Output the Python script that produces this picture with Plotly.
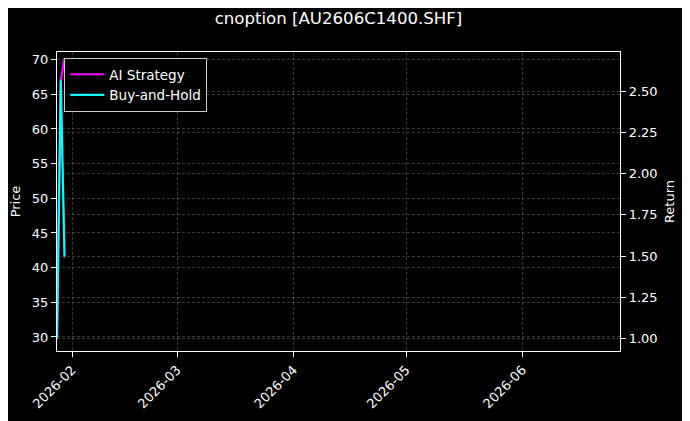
import plotly.graph_objects as go

# daily series for the option (only three sessions of data)
dates = ["2026-01-28", "2026-01-29", "2026-01-30"]
price = [30.0, 67.1, 41.4]
ai_strategy = [1.00, 2.567, 2.70]
buy_and_hold = [1.00, 2.567, 1.498]

x_range = ["2026-01-28", "2026-06-27"]
price_range = [27.98, 71.1]
return_range = [0.923, 2.739]

FONT = "DejaVu Sans"
GRID = "rgba(140,140,140,0.4)"

fig = go.Figure()
fig.add_trace(go.Scatter(x=dates, y=price, mode="lines", name="Price",
                         line=dict(color="rgba(255,255,255,0.35)", width=1.5),
                         showlegend=False, yaxis="y"))
fig.add_trace(go.Scatter(x=dates, y=ai_strategy, mode="lines", name="AI Strategy",
                         line=dict(color="#ff00ff", width=2.2), yaxis="y2"))
fig.add_trace(go.Scatter(x=dates, y=buy_and_hold, mode="lines", name="Buy-and-Hold",
                         line=dict(color="#00ffff", width=2.2), yaxis="y2"))

axis_common = dict(showline=True, linecolor="white", linewidth=1.2,
                   ticks="outside", tickcolor="white", ticklen=5,
                   tickfont=dict(color="white", size=13, family=FONT),
                   showgrid=True, gridcolor=GRID, griddash="3px,2px", gridwidth=0.5,
                   zeroline=False, automargin=False)

# page body adds 8px offset, so the figure is a bit smaller than the window
fig.update_layout(
    width=682, height=413,
    paper_bgcolor="black", plot_bgcolor="black",
    margin=dict(l=49, r=70, t=44, b=70),
    font=dict(family=FONT, color="white", size=13),
    title=dict(text="cnoption [AU2606C1400.SHF]", xref="paper", x=0.5, xanchor="center",
               y=0.975, yanchor="middle", font=dict(size=16.6, color="white", family=FONT)),
    xaxis=dict(axis_common, type="date", range=x_range, tickformat="%Y-%m",
               dtick="M1", tick0="2026-02-01", tickangle=-45, mirror=True),
    yaxis=dict(axis_common, range=price_range, dtick=5, tick0=30,
               title=dict(text="Price", standoff=8, font=dict(size=13, color="white"))),
    yaxis2=dict(axis_common, range=return_range, dtick=0.25, tick0=1.0,
                tickformat=".2f", overlaying="y", side="right",
                title=dict(text="Return", standoff=8, font=dict(size=13, color="white"))),
    legend=dict(x=0.013, y=0.98, xanchor="left", yanchor="top",
                bgcolor="rgba(0,0,0,0.8)", bordercolor="#cccccc", borderwidth=1,
                font=dict(size=13.5, color="white", family=FONT),
                tracegroupgap=0, itemwidth=34),
    showlegend=True,
)

fig.write_html("out.html")
